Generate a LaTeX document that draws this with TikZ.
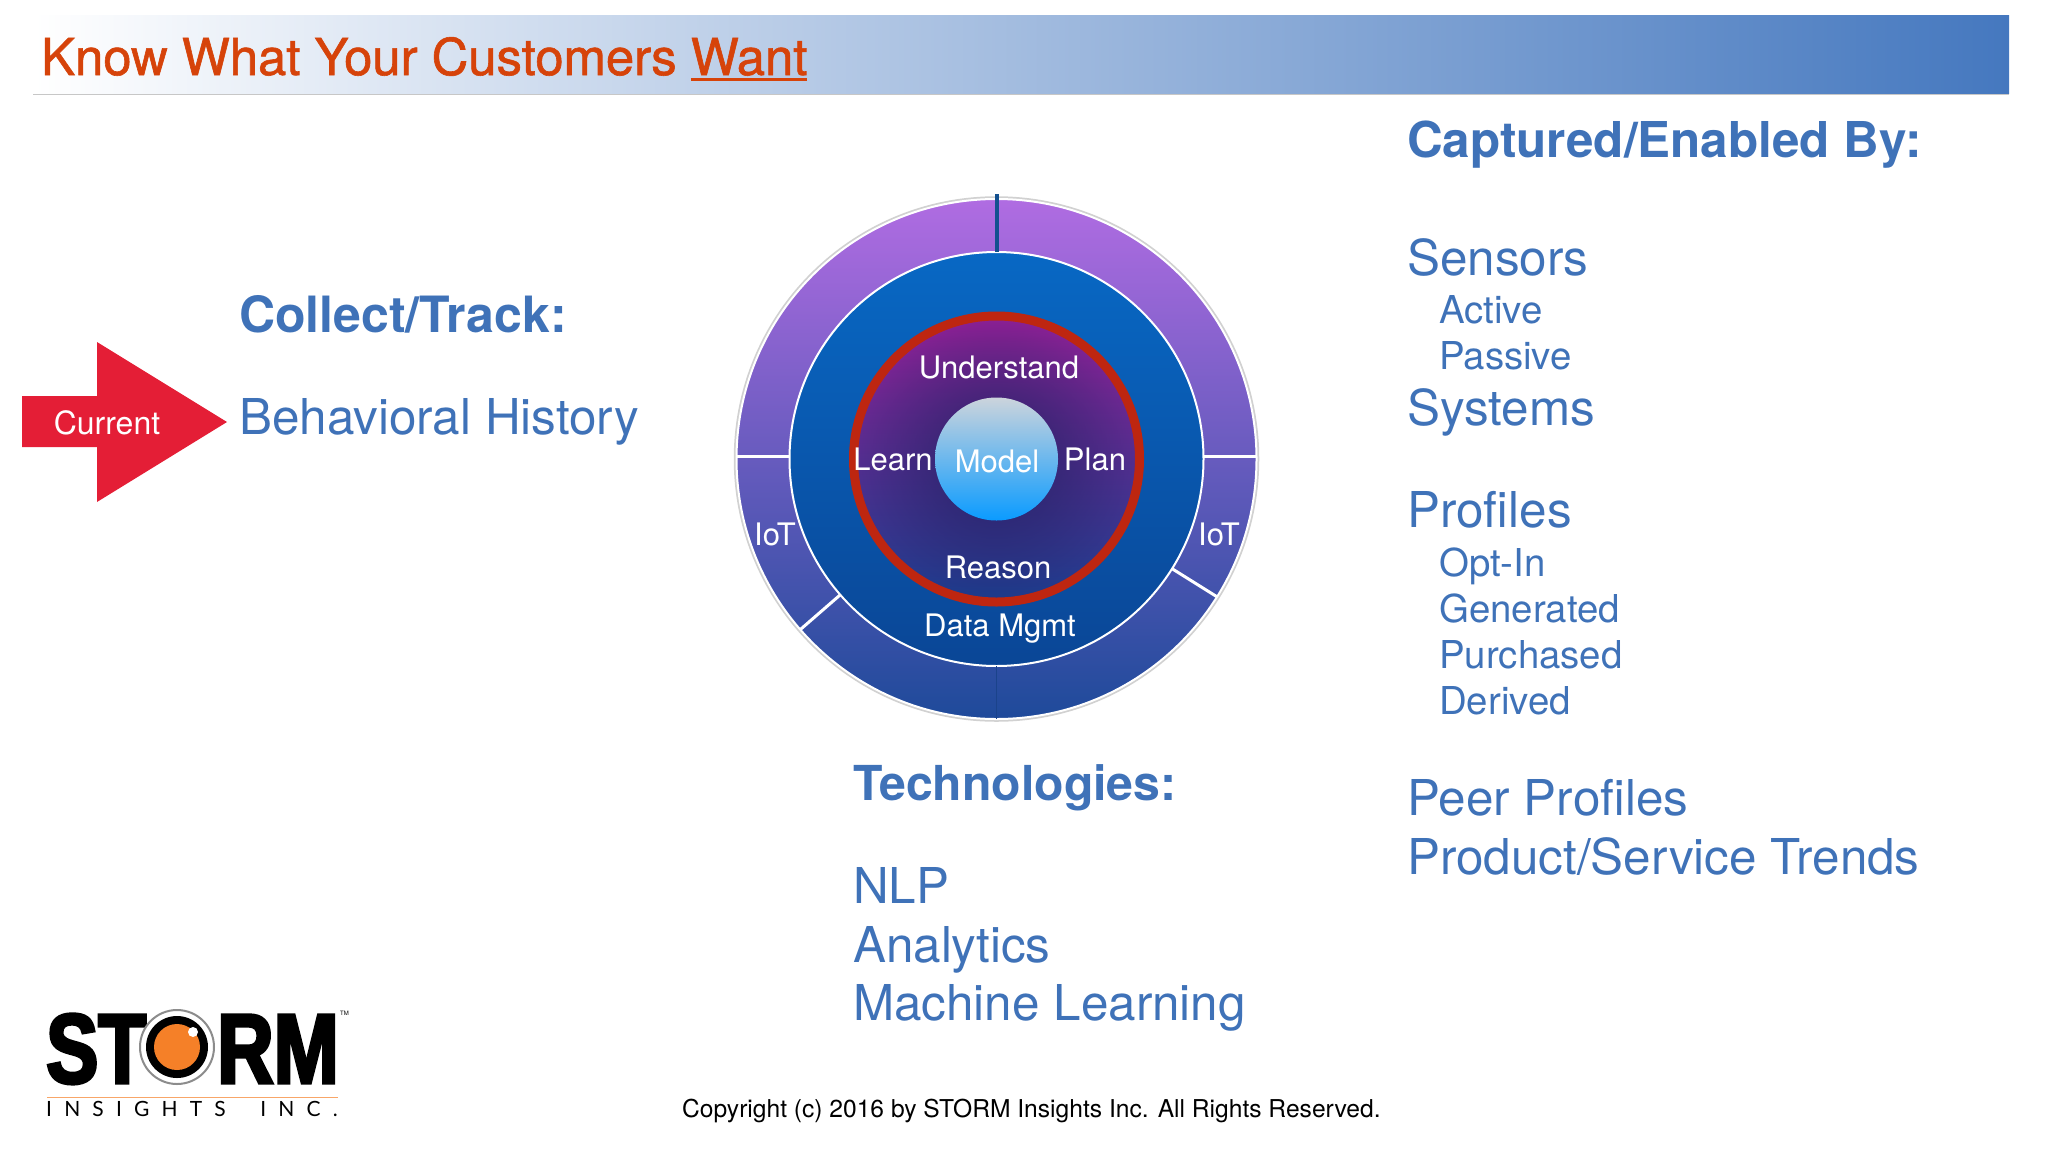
\documentclass[tikz,border=0pt]{standalone}
\usepackage{fontspec}
\setmainfont{TeX Gyre Heros}
\newfontfamily\titlefont[FakeBold=1.2]{TeX Gyre Heros}
\newfontfamily\logofont[FakeBold=3.2,FakeStretch=0.79]{Liberation Sans Bold}
\newfontfamily\tagfont[LetterSpace=58]{Lato}
\usetikzlibrary{fadings,positioning,calc}

\definecolor{titlered}{HTML}{D6430A}
\definecolor{textblue}{HTML}{3F72B8}
\definecolor{barblue}{HTML}{4578BF}
\definecolor{barmid}{HTML}{ABC2E3}
\definecolor{ringtop}{HTML}{B06CE2}
\definecolor{ringbot}{HTML}{1E4A9A}
\definecolor{disctop}{HTML}{0868C4}
\definecolor{discbot}{HTML}{0A4696}
\definecolor{hubtop}{HTML}{8C2093}
\definecolor{hubbot}{HTML}{1C3C8C}
\definecolor{hubdark}{HTML}{1F2060}
\definecolor{hubred}{HTML}{BE2610}
\definecolor{modeltop}{HTML}{CCD4DC}
\definecolor{modelbot}{HTML}{0A9BFF}
\definecolor{arrowred}{HTML}{E41E36}
\definecolor{eyeorange}{HTML}{F58028}
\definecolor{markblue}{HTML}{13508F}

\tikzfading[name=hubfade,inner color=transparent!15,outer color=transparent!100]

\newcommand{\thickunder}[1]{\setbox0\hbox{#1}\rlap{\rule[-6pt]{\wd0}{3pt}}#1}

\begin{document}
\begin{tikzpicture}[
  x=1pt,y=-1pt,
  headstyle/.style={anchor=base west,inner sep=0,text=textblue,font=\fontsize{49.4}{49}\selectfont\bfseries},
  itemstyle/.style={anchor=base west,inner sep=0,text=textblue,font=\fontsize{49.4}{49}\selectfont},
  subitemstyle/.style={anchor=base west,inner sep=0,text=textblue,font=\fontsize{38.4}{38}\selectfont},
  ringlabel/.style={anchor=base,inner sep=0,text=white,font=\fontsize{31}{31}\selectfont},
  discstyle/.style={circle,inner sep=0,outer sep=0},
  dividerstyle/.style={draw=white,line width=3pt}
]
\useasboundingbox (0,0) rectangle (2048,1152);

% title bar
\fill[black!22] (33,17) rectangle (2009,95);
\node [rectangle,inner sep=0,outer sep=0,minimum width=1976pt,minimum height=78pt,left color=white,middle color=barmid,right color=barblue] (bar) at (1021,54) { } ;
\node [anchor=base west,inner sep=0,text=titlered,font=\fontsize{50.8}{51}\titlefont] (title) at (41,75) {Know What Your Customers \thickunder{Want}} ;

% rings
\node [discstyle,draw=black!18,line width=3.5pt,minimum size=522pt] (ringedge) at (996.5,459) { } ;
\node [discstyle,draw=white,line width=2pt,top color=ringtop,bottom color=ringbot,minimum size=520pt] (outerring) at (996.5,459) { } ;
\node [discstyle,draw=white,line width=2pt,top color=disctop,bottom color=discbot,minimum size=414pt] (midring) at (996.5,459) { } ;
\node [discstyle,draw=hubred,line width=9pt,top color=hubtop,bottom color=hubbot,minimum size=286pt] (hub) at (996.5,459) { } ;
\node [discstyle,fill=hubdark,path fading=hubfade,minimum size=277pt] (hubshade) at (996.5,459) { } ;
\node [discstyle,top color=modeltop,bottom color=modelbot,minimum size=123pt] (model) at (996.5,459) { } ;

\coordinate (topmark) at (996.5,194) ;
\draw[draw=markblue,line width=4pt] (topmark) -- (midring.north) ;
\draw[draw=ringbot!90!black,line width=1.5pt] (midring.south) -- (outerring.south) ;
\draw[dividerstyle] ($(midring.west)+(0,-3)$) -- ($(outerring.west)+(0,-3)$) ;
\draw[dividerstyle] ($(midring.east)+(0,-3)$) -- ($(outerring.east)+(0,-3)$) ;
\draw[dividerstyle] (midring.-32) -- (outerring.-32) ;
\draw[dividerstyle] (midring.221.5) -- (outerring.221.5) ;

\node [ringlabel] (understand) at (999,378) {Understand} ;
\node [ringlabel] (learn) at (893,470) {Learn} ;
\node [ringlabel] (modellabel) at (997,472) {Model} ;
\node [ringlabel] (plan) at (1095,470) {Plan} ;
\node [ringlabel] (reason) at (998,578) {Reason} ;
\node [ringlabel] (datamgmt) at (1000,636) {Data Mgmt} ;
\node [ringlabel] (iotleft) at (775,545) {IoT} ;
\node [ringlabel] (iotright) at (1219,545) {IoT} ;

% current arrow
\fill[arrowred] (22,396) -- (97,396) -- (97,342) -- (227,422) -- (97,502) -- (97,447) -- (22,447) -- cycle ;
\node [anchor=base,inner sep=0,text=white,font=\fontsize{32}{32}\selectfont] (current) at (107,434) {Current} ;

% left column
\node [headstyle,font=\fontsize{50}{50}\selectfont\bfseries] (collect) at (239,332) {Collect/Track:} ;
\node [itemstyle] (history) at (239,434) {Behavioral History} ;

% middle column
\node [headstyle,font=\fontsize{48.2}{48}\selectfont\bfseries] (tech) at (853,800) {Technologies:} ;
\node [itemstyle] (nlp) at (853,903) {NLP} ;
\node [itemstyle] (analytics) at (853,962) {Analytics} ;
\node [itemstyle] (ml) at (853,1020) {Machine Learning} ;

% right column
\node [headstyle] (captured) at (1407,157) {Captured/Enabled By:} ;
\node [itemstyle] (sensors) at (1407,275) {Sensors} ;
\node [subitemstyle] (active) at (1439,323) {Active} ;
\node [subitemstyle] (passive) at (1439,369) {Passive} ;
\node [itemstyle] (systems) at (1407,425) {Systems} ;
\node [itemstyle] (profiles) at (1407,527) {Profiles} ;
\node [subitemstyle] (optin) at (1439,576) {Opt-In} ;
\node [subitemstyle] (generated) at (1439,622) {Generated} ;
\node [subitemstyle] (purchased) at (1439,668) {Purchased} ;
\node [subitemstyle] (derived) at (1439,714) {Derived} ;
\node [itemstyle] (peer) at (1407,815) {Peer Profiles} ;
\node [itemstyle] (trends) at (1407,874) {Product/Service Trends} ;

\node [anchor=base west,inner sep=0,font=\fontsize{24.6}{25}\selectfont] (copyright) at (682,1117) {Copyright (c) 2016 by STORM Insights Inc. All Rights Reserved.} ;

% logo
\node [anchor=base west,inner sep=0,font=\fontsize{99}{99}\logofont] (logost) at (46,1083) {ST} ;
\node [anchor=base west,inner sep=0,font=\fontsize{99}{99}\logofont] (logorm) at (217,1083) {RM} ;
\node [discstyle,draw=black!45,line width=2pt,fill=white,minimum size=74pt] (eyeedge) at (177,1047) { } ;
\node [discstyle,fill=black,minimum size=62pt] (eyering) at (177,1047) { } ;
\node [discstyle,fill=eyeorange,minimum size=46pt] (eyeball) at (177,1047) { } ;
\node [discstyle,fill=white,minimum size=10pt] (eyeglint) at (193,1032) { } ;
\node [anchor=base west,inner sep=0,font=\fontsize{6}{6}\selectfont] (trademark) at (340,1015) {TM} ;
\coordinate (lineleft) at (47,1097) ;
\coordinate (lineright) at (338,1097) ;
\draw[draw=eyeorange!70,line width=1pt] (lineleft) -- (lineright) ;
\node [anchor=base west,inner sep=0,font=\fontsize{21}{21}\tagfont] (insights) at (46,1116) {INSIGHTS\hspace{17pt} INC.} ;

\end{tikzpicture}
\end{document}
